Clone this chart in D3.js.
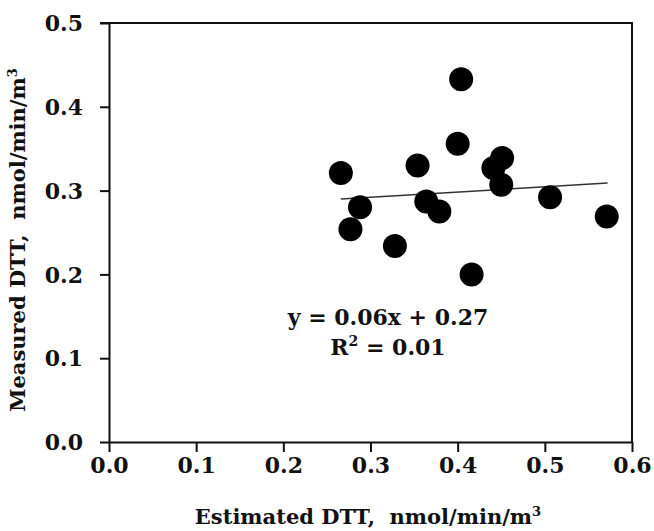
<!DOCTYPE html>
<html>
<head>
<meta charset="utf-8">
<script src="https://cdn.jsdelivr.net/npm/d3@7"></script>
<style>
  html, body { margin: 0; padding: 0; background: #fff; }
  text { font-family: "DejaVu Serif", serif; font-weight: bold; fill: #111; white-space: pre; }
</style>
</head>
<body>
<svg id="chart" width="654" height="531"></svg>
<script>
// Data
const estimatedDTT = [0.404, 0.400, 0.266, 0.354, 0.451, 0.441, 0.450, 0.506, 0.571, 0.288, 0.277, 0.364, 0.379, 0.328, 0.416];
const measuredDTT  = [0.433, 0.356, 0.321, 0.330, 0.339, 0.327, 0.307, 0.292, 0.269, 0.280, 0.254, 0.287, 0.275, 0.234, 0.200];
const xTicks = [0.0, 0.1, 0.2, 0.3, 0.4, 0.5, 0.6];
const yTicks = [0.0, 0.1, 0.2, 0.3, 0.4, 0.5];
const trendSlope = 0.062;
const trendIntercept = 0.2735;
const trendRange = [0.266, 0.572];
const equationLines = ["y = 0.06x + 0.27", "R2 = 0.01"];

const svg = d3.select("#chart");
const m = { left: 109, right: 632, top: 23, bottom: 442 };

const x = d3.scaleLinear().domain([0, 0.6]).range([m.left, m.right]);
const y = d3.scaleLinear().domain([0, 0.5]).range([m.bottom, m.top]);

// Frame (top & right)
svg.append("line").attr("x1", m.left - 9).attr("x2", m.right + 1)
  .attr("y1", m.top).attr("y2", m.top).attr("stroke", "#111").attr("stroke-width", 2);
svg.append("line").attr("x1", m.right).attr("x2", m.right)
  .attr("y1", m.top).attr("y2", m.bottom).attr("stroke", "#111").attr("stroke-width", 2);

// Axes
const xAxis = d3.axisBottom(x).tickValues(xTicks).tickFormat(d3.format(".1f"))
  .tickSizeInner(10).tickSizeOuter(0).tickPadding(5);
const yAxis = d3.axisLeft(y).tickValues(yTicks).tickFormat(d3.format(".1f"))
  .tickSizeInner(9).tickSizeOuter(0).tickPadding(17);

const gx = svg.append("g").attr("transform", `translate(0,${m.bottom})`).call(xAxis);
const gy = svg.append("g").attr("transform", `translate(${m.left},0)`).call(yAxis);
[gx, gy].forEach(g => {
  g.selectAll(".domain").attr("stroke", "#111").attr("stroke-width", 2);
  g.selectAll(".tick line").attr("stroke", "#111").attr("stroke-width", 2);
  g.selectAll(".tick text").style("font-family", "DejaVu Serif, serif")
    .style("font-weight", "bold").style("font-size", "22px").attr("fill", "#111");
});
gy.selectAll(".tick text").attr("dy", "0.35em");

// Trend line
svg.append("line")
  .attr("x1", x(trendRange[0])).attr("y1", y(trendSlope * trendRange[0] + trendIntercept))
  .attr("x2", x(trendRange[1])).attr("y2", y(trendSlope * trendRange[1] + trendIntercept))
  .attr("stroke", "#333").attr("stroke-width", 1.5);

// Points
const defs = svg.append("defs");
const f = defs.append("filter").attr("id", "soft").attr("x", "-30%").attr("y", "-30%").attr("width", "160%").attr("height", "160%");
f.append("feGaussianBlur").attr("stdDeviation", 0.6);

svg.append("g").selectAll("circle")
  .data(estimatedDTT.map((v, i) => [v, measuredDTT[i]]))
  .join("circle")
  .attr("cx", d => x(d[0])).attr("cy", d => y(d[1]))
  .attr("r", 12).attr("fill", "#000").attr("filter", "url(#soft)");

// Equation
const eq = svg.append("text").attr("text-anchor", "middle").style("font-size", "22px");
eq.append("tspan").attr("x", 388).attr("y", 325).text(equationLines[0]);
const l2 = svg.append("text").attr("text-anchor", "middle").attr("x", 388).attr("y", 355).style("font-size", "22px");
l2.append("tspan").text("R");
l2.append("tspan").attr("dy", -9).style("font-size", "14px").text("2");
l2.append("tspan").attr("dy", 9).text(" = 0.01");

// Axis titles
const xt = svg.append("text").attr("text-anchor", "middle").attr("x", 368).attr("y", 524).style("font-size", "21px");
xt.append("tspan").text("Estimated DTT,  nmol/min/m");
xt.append("tspan").attr("dy", -8).style("font-size", "13px").text("3");

const yt = svg.append("text").attr("text-anchor", "middle")
  .attr("transform", "translate(25,240) rotate(-90)").style("font-size", "21px");
yt.append("tspan").text("Measured DTT,  nmol/min/m");
yt.append("tspan").attr("dy", -8).style("font-size", "13px").text("3");
</script>
</body>
</html>
